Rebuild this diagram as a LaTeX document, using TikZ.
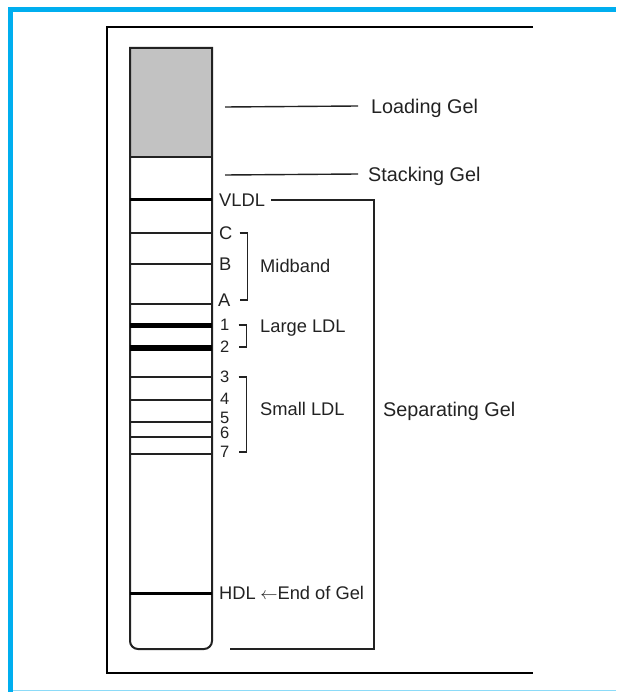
\documentclass[tikz,border=0pt]{standalone}
\usepackage{fontspec}
\setmainfont{Liberation Sans}
\usetikzlibrary{positioning, calc}
\definecolor{framecyan}{HTML}{00AEEF}
\definecolor{gelgray}{HTML}{C2C2C2}
\definecolor{inkdark}{HTML}{222222}

\begin{document}
\begin{tikzpicture}[x=1pt, y=-1pt,
    lbl/.style={font=\fontsize{18.3}{20}\selectfont, text=inkdark, inner sep=0pt, text height=13.1pt, text depth=0pt, anchor=west},
    biglbl/.style={lbl, font=\fontsize{19.8}{22}\selectfont, text height=14.2pt},
    numlbl/.style={lbl, font=\fontsize{16.5}{18}\selectfont, text height=11.8pt},
    thinband/.style={draw=inkdark, line width=1.2pt},
    fatband/.style={draw=black, line width=5pt},
    brk/.style={draw=inkdark, line width=1.4pt}]
  \useasboundingbox (0,0) rectangle (616,692);
  % page frame
  \fill[framecyan] (8,7) rectangle (616,12);
  \fill[framecyan] (8,7) rectangle (13,692);
  \draw[framecyan!45, line width=1pt] (13,690.5) -- (616,690.5);
  \draw[black, line width=1.3pt] (533,27) -- (107,27) -- (107,673) -- (533,673);
  % gel column
  \fill[gelgray] (130,48) rectangle (212,157);
  \draw[inkdark, line width=2pt] (171,48) -- (130,48) -- (130,600) [rounded corners=8pt] -- (130,649) -- (212,649) -- (212,600) [sharp corners] -- (212,48) -- cycle;
  \foreach \y in {157,233,264,304,377,400,422,437,454}
    \draw[thinband] (130,\y) -- (212,\y);
  \draw[fatband, line width=3.5pt] (130,199.5) -- (212,199.5);
  \draw[fatband] (130,325.5) -- (212,325.5);
  \draw[fatband, line width=6pt] (130,347.5) -- (212,347.5);
  \draw[fatband, line width=3pt] (130,593) -- (212,593);

  % band labels
  \node[lbl] (vldl) at (219,200) {VLDL};
  \node[lbl] (c) at (219,233) {C};
  \node[lbl] (b) at (219,264) {B};
  \node[lbl] (a) at (218,300) {A};
  \node[numlbl] (one) at (220,325) {1};
  \node[numlbl] (two) at (220,347) {2};
  \node[numlbl] (three) at (220,377) {3};
  \node[numlbl] (four) at (220,399) {4};
  \node[numlbl] (five) at (220,418) {5};
  \node[numlbl] (six) at (220,433) {6};
  \node[numlbl] (seven) at (220,452) {7};
  \node[lbl] (hdl) at (219,593) {HDL\hspace{4.5pt}$\leftarrow$End of Gel};

  % group labels
  \node[lbl] (midband) at (260,266) {Midband};
  \node[lbl] (largeldl) at (260,326) {Large LDL};
  \node[lbl] (smallldl) at (260,409) {Small LDL};
  \node[biglbl] (loading) at (371,106) {Loading Gel};
  \node[biglbl] (stacking) at (368,174) {Stacking Gel};
  \node[biglbl] (separating) at (383,409) {Separating Gel};

  \coordinate (loadtip) at (225,107);
  \coordinate (stacktip) at (225,175);
  \coordinate (sepbot) at (230,649);

  % leaders and brackets
  \draw[brk] (loadtip) -- ([xshift=-13pt]loading.west);
  \draw[brk] (stacktip) -- ([xshift=-10pt]stacking.west);
  \draw[brk] ([xshift=6pt]vldl.east) -- ++(103,0) |- (sepbot);
  \draw[brk] ([xshift=7pt]c.east) -- ++(8,0) |- ([xshift=9pt]a.east);
  \draw[brk] ([xshift=9pt]one.east) -- ++(8,0) |- ([xshift=9pt]two.east);
  \draw[brk] ([xshift=9pt]three.east) -- ++(8,0) |- ([xshift=9pt]seven.east);
\end{tikzpicture}
\end{document}
